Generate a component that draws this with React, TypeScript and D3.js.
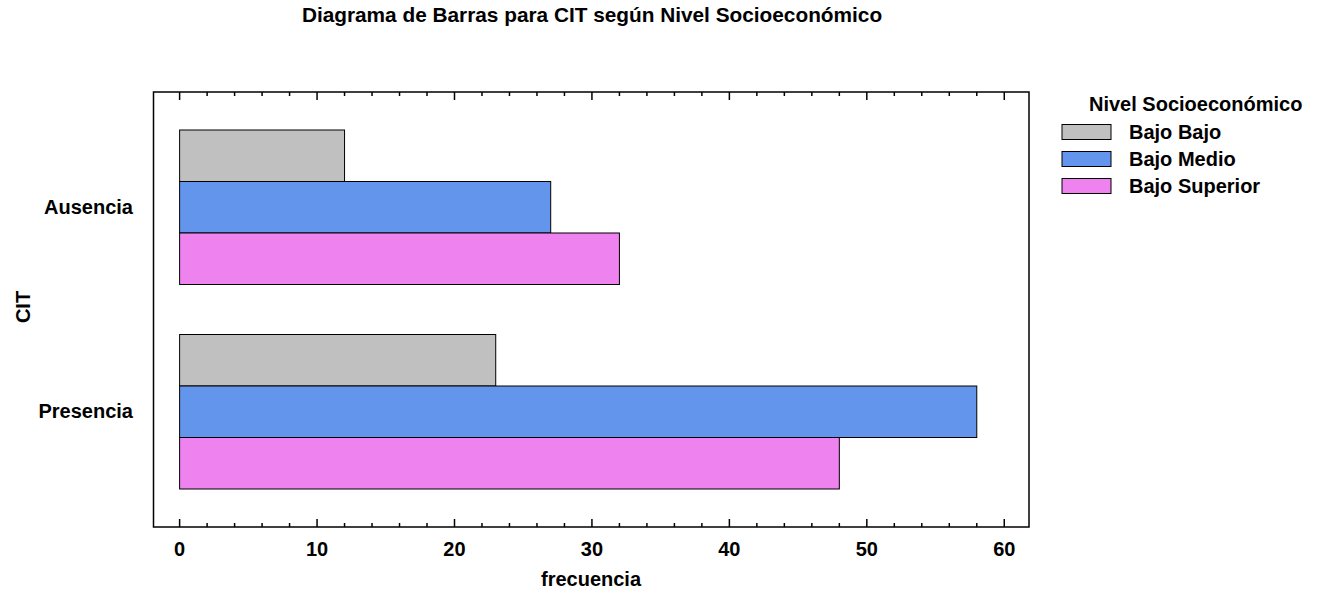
import React from "react";
import * as d3 from "d3";

const categories = ["Ausencia", "Presencia"];
const series = ["Bajo Bajo", "Bajo Medio", "Bajo Superior"];
const colors = ["#C0C0C0", "#6495ED", "#EE82EE"];
const ausencia = [12, 27, 32];
const presencia = [23, 58, 48];
const xTicks = [0, 10, 20, 30, 40, 50, 60];
const title = "Diagrama de Barras para CIT según Nivel Socioeconómico";
const xTitle = "frecuencia";
const yTitle = "CIT";
const legendTitle = "Nivel Socioeconómico";

const W = 1325;
const H = 596;
const FONT = "'Liberation Sans', Arial, sans-serif";

export default function App() {
  const left = 153.5, right = 1029, top = 92, bottom = 527;
  const x = d3.scaleLinear().domain([-1.9, 61.8]).range([left, right]);
  const yOuter = d3.scaleBand<string>().domain(categories).range([130, 489]).paddingInner(0.2445).paddingOuter(0);
  const yInner = d3.scaleBand<string>().domain(series).range([0, yOuter.bandwidth()]).padding(0);
  const values: Record<string, number[]> = { Ausencia: ausencia, Presencia: presencia };
  const minor = d3.range(0, 62, 2);

  return (
    <svg width={W} height={H} style={{ position: "absolute", left: 0, top: 0, background: "#fff" }} fontFamily={FONT} fontWeight="bold">
      <rect x={0} y={0} width={W} height={H} fill="#fff" />
      <text x={592} y={22} textAnchor="middle" fontSize={20.8}>{title}</text>
      {categories.map((c) => (
        <g key={c}>
          {series.map((s, i) => (
            <rect key={s} x={x(0)} y={(yOuter(c) as number) + (yInner(s) as number)} width={x(values[c][i]) - x(0)} height={yInner.bandwidth()} fill={colors[i]} stroke="#000" strokeWidth={1} />
          ))}
          <text x={133} y={(yOuter(c) as number) + yOuter.bandwidth() / 2 + 6.5} textAnchor="end" fontSize={20}>{c}</text>
        </g>
      ))}
      <rect x={left} y={top} width={right - left} height={bottom - top} fill="none" stroke="#000" strokeWidth={1.5} />
      {minor.map((t) => {
        const major = t % 10 === 0;
        const len = major ? 8 : 4;
        return (
          <g key={t}>
            <line x1={x(t)} x2={x(t)} y1={bottom} y2={bottom - len} stroke="#000" strokeWidth={1.5} />
            <line x1={x(t)} x2={x(t)} y1={top} y2={top + len} stroke="#000" strokeWidth={1.5} />
          </g>
        );
      })}
      {xTicks.map((t) => (
        <text key={t} x={x(t)} y={556} textAnchor="middle" fontSize={20}>{t}</text>
      ))}
      <text x={591} y={586} textAnchor="middle" fontSize={20}>{xTitle}</text>
      <text transform={`translate(30,307) rotate(-90)`} textAnchor="middle" fontSize={20}>{yTitle}</text>
      <text x={1089} y={111} fontSize={20}>{legendTitle}</text>
      {series.map((s, i) => (
        <g key={s}>
          <rect x={1062} y={124.5 + i * 27} width={49} height={15} fill={colors[i]} stroke="#000" strokeWidth={1} />
          <text x={1129} y={138.5 + i * 27} fontSize={20}>{s}</text>
        </g>
      ))}
    </svg>
  );
}
